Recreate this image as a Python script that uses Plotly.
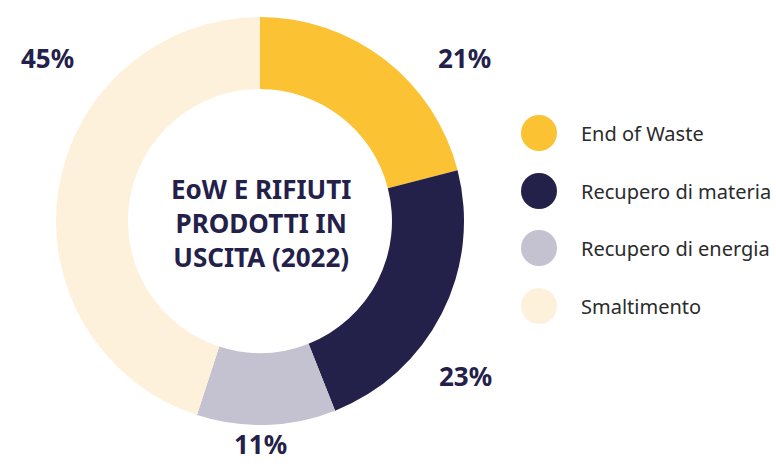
import plotly.graph_objects as go

# Waste output breakdown, 2022
categories = ["End of Waste", "Recupero di materia", "Recupero di energia", "Smaltimento"]
shares = [21, 23, 11, 45]
colors = ["#FBC333", "#23204A", "#C4C1D1", "#FEF1DC"]
center_title = "EoW E RIFIUTI<br>PRODOTTI IN<br>USCITA (2022)"

# label anchor for each share (paper coordinates) and vertical anchor
label_pos = [(0.599, 0.875, "middle"), (0.600, 0.190, "middle"),
             (0.336, 0.0, "bottom"), (0.061, 0.875, "middle")]

W, H = 776, 464
FONT = "Noto Sans"
NAVY = "#23204A"

fig = go.Figure(
    go.Pie(
        labels=categories,
        values=shares,
        marker=dict(colors=colors, line=dict(width=0)),
        hole=0.647,
        sort=False,
        direction="clockwise",
        rotation=0,
        textinfo="none",
        hoverinfo="label+percent",
        domain=dict(x=[55 / W, 465 / W], y=[(243 - 204) / H, (243 + 204) / H]),
        showlegend=False,
    )
)

annotations = [
    dict(
        text=f"<b>{center_title}</b>",
        x=261 / W, y=(H - 223) / H, xref="paper", yref="paper",
        showarrow=False, align="center",
        font=dict(family=FONT, size=26, color=NAVY),
    )
]
for v, (lx, ly, anchor) in zip(shares, label_pos):
    annotations.append(dict(
        text=f"<b>{v}%</b>", x=lx, y=ly, xref="paper", yref="paper",
        showarrow=False, xanchor="center", yanchor=anchor,
        font=dict(family=FONT, size=26, color=NAVY),
    ))

# custom legend with round swatches
shapes = []
row_y = [133, 191, 248, 306]
r = 18
for name, col, yy in zip(categories, colors, row_y):
    shapes.append(dict(
        type="circle", xref="paper", yref="paper",
        x0=(539 - r) / W, x1=(539 + r) / W,
        y0=(H - yy - r) / H, y1=(H - yy + r) / H,
        fillcolor=col, line=dict(width=0),
    ))
    annotations.append(dict(
        text=name, x=579 / W, y=(H - yy) / H, xref="paper", yref="paper",
        showarrow=False, xanchor="left", yanchor="middle",
        font=dict(family=FONT, size=20, color="#2b2b2b"),
    ))

fig.update_layout(
    width=W, height=H,
    margin=dict(l=0, r=0, t=0, b=0),
    paper_bgcolor="white", plot_bgcolor="white",
    annotations=annotations, shapes=shapes,
)

fig.write_html("out.html")
